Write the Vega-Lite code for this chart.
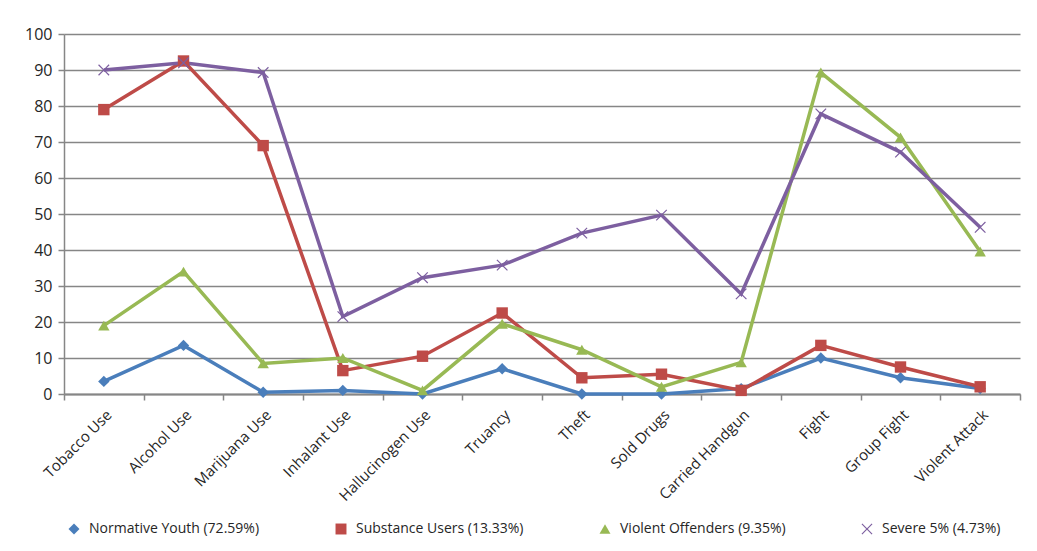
{
  "$schema": "https://vega.github.io/schema/vega-lite/v6.json",
  "width": 956,
  "height": 360,
  "autosize": {"type": "none"},
  "padding": {"left": 64, "top": 34, "right": 17, "bottom": 157},
  "background": "white",
  "config": {
    "view": {"stroke": null},
    "font": "Open Sans",
    "axis": {"labelFont": "Open Sans", "labelColor": "#262626", "labelFontSize": 14}
  },
  "data": {
    "values": [
      {"cat": "Tobacco Use", "series": "Normative Youth (72.59%)", "v": 3.5},
      {"cat": "Alcohol Use", "series": "Normative Youth (72.59%)", "v": 13.5},
      {"cat": "Marijuana Use", "series": "Normative Youth (72.59%)", "v": 0.5},
      {"cat": "Inhalant Use", "series": "Normative Youth (72.59%)", "v": 1},
      {"cat": "Hallucinogen Use", "series": "Normative Youth (72.59%)", "v": 0},
      {"cat": "Truancy", "series": "Normative Youth (72.59%)", "v": 7},
      {"cat": "Theft", "series": "Normative Youth (72.59%)", "v": 0},
      {"cat": "Sold Drugs", "series": "Normative Youth (72.59%)", "v": 0},
      {"cat": "Carried Handgun", "series": "Normative Youth (72.59%)", "v": 1.5},
      {"cat": "Fight", "series": "Normative Youth (72.59%)", "v": 10},
      {"cat": "Group Fight", "series": "Normative Youth (72.59%)", "v": 4.5},
      {"cat": "Violent Attack", "series": "Normative Youth (72.59%)", "v": 1.5},
      {"cat": "Tobacco Use", "series": "Substance Users (13.33%)", "v": 79},
      {"cat": "Alcohol Use", "series": "Substance Users (13.33%)", "v": 92.5},
      {"cat": "Marijuana Use", "series": "Substance Users (13.33%)", "v": 69},
      {"cat": "Inhalant Use", "series": "Substance Users (13.33%)", "v": 6.5},
      {"cat": "Hallucinogen Use", "series": "Substance Users (13.33%)", "v": 10.5},
      {"cat": "Truancy", "series": "Substance Users (13.33%)", "v": 22.5},
      {"cat": "Theft", "series": "Substance Users (13.33%)", "v": 4.5},
      {"cat": "Sold Drugs", "series": "Substance Users (13.33%)", "v": 5.5},
      {"cat": "Carried Handgun", "series": "Substance Users (13.33%)", "v": 1},
      {"cat": "Fight", "series": "Substance Users (13.33%)", "v": 13.5},
      {"cat": "Group Fight", "series": "Substance Users (13.33%)", "v": 7.5},
      {"cat": "Violent Attack", "series": "Substance Users (13.33%)", "v": 2},
      {"cat": "Tobacco Use", "series": "Violent Offenders (9.35%)", "v": 19},
      {"cat": "Alcohol Use", "series": "Violent Offenders (9.35%)", "v": 34},
      {"cat": "Marijuana Use", "series": "Violent Offenders (9.35%)", "v": 8.5},
      {"cat": "Inhalant Use", "series": "Violent Offenders (9.35%)", "v": 10},
      {"cat": "Hallucinogen Use", "series": "Violent Offenders (9.35%)", "v": 1},
      {"cat": "Truancy", "series": "Violent Offenders (9.35%)", "v": 19.5},
      {"cat": "Theft", "series": "Violent Offenders (9.35%)", "v": 12.3},
      {"cat": "Sold Drugs", "series": "Violent Offenders (9.35%)", "v": 2},
      {"cat": "Carried Handgun", "series": "Violent Offenders (9.35%)", "v": 8.8},
      {"cat": "Fight", "series": "Violent Offenders (9.35%)", "v": 89.3},
      {"cat": "Group Fight", "series": "Violent Offenders (9.35%)", "v": 71.3},
      {"cat": "Violent Attack", "series": "Violent Offenders (9.35%)", "v": 39.6},
      {"cat": "Tobacco Use", "series": "Severe 5% (4.73%)", "v": 90},
      {"cat": "Alcohol Use", "series": "Severe 5% (4.73%)", "v": 92},
      {"cat": "Marijuana Use", "series": "Severe 5% (4.73%)", "v": 89.3},
      {"cat": "Inhalant Use", "series": "Severe 5% (4.73%)", "v": 21.5},
      {"cat": "Hallucinogen Use", "series": "Severe 5% (4.73%)", "v": 32.3},
      {"cat": "Truancy", "series": "Severe 5% (4.73%)", "v": 35.8},
      {"cat": "Theft", "series": "Severe 5% (4.73%)", "v": 44.7},
      {"cat": "Sold Drugs", "series": "Severe 5% (4.73%)", "v": 49.7},
      {"cat": "Carried Handgun", "series": "Severe 5% (4.73%)", "v": 27.8},
      {"cat": "Fight", "series": "Severe 5% (4.73%)", "v": 77.8},
      {"cat": "Group Fight", "series": "Severe 5% (4.73%)", "v": 67.2},
      {"cat": "Violent Attack", "series": "Severe 5% (4.73%)", "v": 46.3}
    ]
  },
  "encoding": {
    "x": {
      "field": "cat", "type": "nominal", "sort": null,
      "scale": {"type": "band", "paddingInner": 0, "paddingOuter": 0},
      "axis": {
        "title": null, "labelAngle": -45, "grid": false,
        "tickBand": "extent", "domainColor": "#868686", "domainWidth": 2,
        "tickColor": "#868686", "tickSize": 6, "tickWidth": 1.5,
        "labelPadding": 7, "labelFontSize": 15
      }
    },
    "y": {
      "field": "v", "type": "quantitative",
      "scale": {"domain": [0, 100], "nice": false, "zero": true},
      "axis": {
        "title": null, "values": [0,10,20,30,40,50,60,70,80,90,100],
        "grid": true, "gridColor": "#868686", "gridWidth": 1.5,
        "domainColor": "#868686", "domainWidth": 1.5,
        "tickColor": "#868686", "tickSize": 6, "tickWidth": 1.5,
        "labelPadding": 6, "labelFontSize": 16
      }
    },
    "color": {
      "field": "series", "type": "nominal", "sort": null,
      "scale": {
        "domain": ["Normative Youth (72.59%)", "Substance Users (13.33%)", "Violent Offenders (9.35%)", "Severe 5% (4.73%)"],
        "range": ["#4A7EBB", "#BE4B48", "#98B954", "#7D5FA0"]
      },
      "legend": {
        "title": null, "orient": "none", "legendX": 3, "legendY": 488,
        "direction": "horizontal", "columns": 4, "columnPadding": 74, "gridAlign": "none",
        "labelFontSize": 14, "labelColor": "#262626", "labelFont": "Open Sans",
        "labelLimit": 400, "labelOffset": 8,
        "symbolSize": 120, "symbolStrokeWidth": 0
      }
    }
  },
  "layer": [
    {
      "mark": {"type": "line", "strokeWidth": 3.5}
    },
    {
      "mark": {"type": "point", "filled": true, "opacity": 1, "size": 130},
      "encoding": {
        "shape": {
          "field": "series", "type": "nominal", "sort": null,
          "scale": {
            "domain": ["Normative Youth (72.59%)", "Substance Users (13.33%)", "Violent Offenders (9.35%)", "Severe 5% (4.73%)"],
            "range": ["diamond", "square", "triangle-up", "M-0.85,-1L0,-0.15L0.85,-1L1,-0.85L0.15,0L1,0.85L0.85,1L0,0.15L-0.85,1L-1,0.85L-0.15,0L-1,-0.85Z"]
          }
        }
      }
    }
  ]
}
